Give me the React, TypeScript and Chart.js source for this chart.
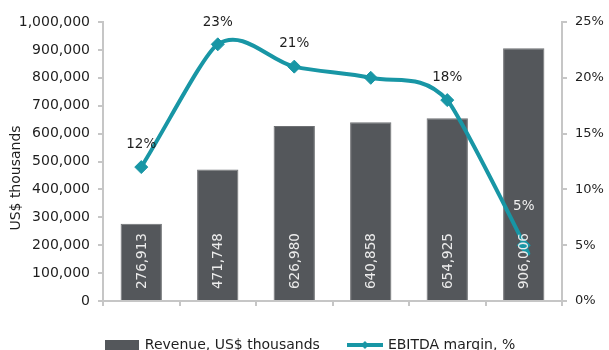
import React, { useEffect, useRef } from 'react';
import { Chart, registerables } from 'chart.js';

Chart.register(...registerables);

const categories = ['Year 4', 'Year 5', 'Year 6', 'Year 7', 'Year 8', 'Year 24'];
const revenue = [276913, 471748, 626980, 640858, 654925, 906006];
const ebitdaMargin = [12, 23, 21, 20, 18, 5];
const marginLabels = ['12%', '23%', '21%', '', '18%', '5%'];
const revenueLabel = 'Revenue, US$ thousands';
const marginLabel = 'EBITDA margin, %';
const leftAxisTitle = 'US$ thousands';

const FONT = '"DejaVu Sans", Verdana, sans-serif';
const BAR = '#54575b';
const TEAL = '#1896a5';
const AXIS = '#c6c6c6';
const TEXT = '#1e1e1e';

const fmt = (v: number) => v.toLocaleString('en-US');

function makeBoxMarker() {
  const c = document.createElement('canvas');
  c.width = 34;
  c.height = 10;
  const ctx = c.getContext('2d')!;
  ctx.fillStyle = BAR;
  ctx.fillRect(0, 0, 34, 10);
  return c;
}

function makeLineMarker() {
  const c = document.createElement('canvas');
  c.width = 36;
  c.height = 10;
  const ctx = c.getContext('2d')!;
  ctx.strokeStyle = TEAL;
  ctx.lineWidth = 4;
  ctx.beginPath();
  ctx.moveTo(0, 5);
  ctx.lineTo(36, 5);
  ctx.stroke();
  ctx.fillStyle = TEAL;
  ctx.beginPath();
  ctx.moveTo(18 - 4, 5);
  ctx.lineTo(18, 1);
  ctx.lineTo(18 + 4, 5);
  ctx.lineTo(18, 9);
  ctx.closePath();
  ctx.fill();
  return c;
}

const dist = (a: any, b: any) => Math.hypot(a.x - b.x, a.y - b.y);

const labelPlugin = {
  id: 'customLabels',
  afterLayout(chart: any) {
    if (chart.legend) {
      chart.legend.left += 6;
      chart.legend.right += 6;
    }
  },
  beforeDatasetDraw(chart: any, args: any) {
    if (args.index !== 1) return;
    const meta = args.meta;
    if (meta.dataset && meta.dataset.updateControlPoints) {
      meta.dataset.updateControlPoints(chart.chartArea, 'x');
    }
    // Excel-like smoothing: Catmull-Rom style tangents, arms shortened on the longer side
    const pts = meta.data;
    const n = pts.length;
    for (let i = 0; i < n; i++) {
      const p = pts[i];
      if (i === 0 || i === n - 1) {
        const o = i === 0 ? pts[1] : pts[n - 2];
        const tx = (o.x - p.x) / 3;
        const ty = (o.y - p.y) / 3;
        p.cp1x = p.x - tx; p.cp1y = p.y - ty;
        p.cp2x = p.x + tx; p.cp2y = p.y + ty;
        continue;
      }
      const prev = pts[i - 1];
      const next = pts[i + 1];
      const tx = (next.x - prev.x) / 6;
      const ty = (next.y - prev.y) / 6;
      const dIn = dist(prev, p);
      const dOut = dist(p, next);
      const kIn = Math.min(1, dOut / dIn);
      const kOut = Math.min(1, dIn / dOut);
      p.cp1x = p.x - tx * kIn;
      p.cp1y = p.y - ty * kIn;
      p.cp2x = p.x + tx * kOut;
      p.cp2y = p.y + ty * kOut;
    }
  },
  afterDatasetsDraw(chart: any) {
    const ctx = chart.ctx;
    const barMeta = chart.getDatasetMeta(0);
    ctx.save();
    ctx.font = `13.5px ${FONT}`;
    ctx.fillStyle = '#ececec';
    barMeta.data.forEach((bar: any, i: number) => {
      ctx.save();
      ctx.translate(bar.x, bar.base - 11);
      ctx.rotate(-Math.PI / 2);
      ctx.textAlign = 'left';
      ctx.textBaseline = 'middle';
      ctx.fillText(fmt(revenue[i]), 0, 1);
      ctx.restore();
    });
    ctx.restore();

    const lineMeta = chart.getDatasetMeta(1);
    const offsets = [23, 22, 23, 0, 22.5, 39];
    ctx.save();
    ctx.font = `13.5px ${FONT}`;
    ctx.textAlign = 'center';
    ctx.textBaseline = 'middle';
    lineMeta.data.forEach((pt: any, i: number) => {
      const t = marginLabels[i];
      if (!t) return;
      ctx.fillStyle = i === 5 ? '#f0f0f0' : TEXT;
      ctx.fillText(t, pt.x, pt.y - offsets[i]);
    });
    ctx.restore();

    ctx.save();
    ctx.font = `14px ${FONT}`;
    ctx.fillStyle = TEXT;
    ctx.translate(16, 178);
    ctx.rotate(-Math.PI / 2);
    ctx.textAlign = 'center';
    ctx.textBaseline = 'middle';
    ctx.fillText(leftAxisTitle, 0, 0);
    ctx.restore();
  },
};

export default function App() {
  const ref = useRef<HTMLCanvasElement>(null);

  useEffect(() => {
    document.body.style.margin = '0';
    const boxMarker = makeBoxMarker();
    const lineMarker = makeLineMarker();
    const chart = new Chart(ref.current!, {
      type: 'bar',
      data: {
        labels: categories,
        datasets: [
          {
            type: 'bar',
            label: revenueLabel,
            data: revenue,
            backgroundColor: BAR,
            borderColor: '#6e7073',
            borderWidth: 1,
            barPercentage: 0.54,
            categoryPercentage: 1,
            yAxisID: 'y',
            order: 1,
          },
          {
            type: 'line',
            label: marginLabel,
            data: ebitdaMargin,
            borderColor: TEAL,
            backgroundColor: TEAL,
            borderWidth: 4,
            tension: 0.3,
            pointStyle: 'rectRot',
            pointRadius: 6.5,
            pointBorderWidth: 1,
            pointBackgroundColor: TEAL,
            pointBorderColor: TEAL,
            yAxisID: 'y1',
            order: 0,
          } as any,
        ],
      },
      options: {
        responsive: false,
        animation: false,
        layout: { padding: { top: 22, left: 0, right: 0, bottom: 0 } },
        plugins: {
          tooltip: { enabled: false },
          legend: {
            position: 'bottom',
            labels: {
              font: { family: FONT, size: 14 },
              color: TEXT,
              padding: 29,
              usePointStyle: true,
              pointStyleWidth: 32,
              generateLabels: () => [
                { text: revenueLabel, pointStyle: boxMarker as any, datasetIndex: 0, fillStyle: BAR, strokeStyle: BAR, lineWidth: 0, hidden: false, fontColor: TEXT },
                { text: marginLabel, pointStyle: lineMarker as any, datasetIndex: 1, fillStyle: TEAL, strokeStyle: TEAL, lineWidth: 0, hidden: false, fontColor: TEXT },
              ] as any,
            },
          },
        },
        scales: {
          x: {
            grid: { drawOnChartArea: false, tickLength: 5, color: AXIS, lineWidth: 2, offset: true },
            border: { color: AXIS, width: 2 },
            ticks: { font: { family: FONT, size: 12 }, color: TEXT, padding: 5, maxRotation: 0 },
            afterFit: (s: any) => { s.height = 8; },
          },
          y: {
            position: 'left',
            min: 0,
            max: 1000000,
            grid: { drawOnChartArea: false, tickLength: 5, color: AXIS, lineWidth: 2 },
            border: { color: AXIS, width: 2 },
            ticks: { stepSize: 100000, font: { family: FONT, size: 14 }, color: TEXT, padding: 8, callback: (v: any) => fmt(Number(v)) },
            afterFit: (s: any) => { s.width = 103; },
          },
          y1: {
            position: 'right',
            min: 0,
            max: 25,
            grid: { drawOnChartArea: false, tickLength: 5, color: AXIS, lineWidth: 2 },
            border: { color: AXIS, width: 2 },
            ticks: { stepSize: 5, font: { family: FONT, size: 13 }, color: TEXT, padding: 8, callback: (v: any) => `${v}%` },
            afterFit: (s: any) => { s.width = 47; },
          },
        },
      },
      plugins: [labelPlugin],
    });
    return () => chart.destroy();
  }, []);

  return (
    <div style={{ width: 609, height: 350, overflow: 'hidden', background: '#fff' }}>
      <canvas ref={ref} width={609} height={362} />
    </div>
  );
}
